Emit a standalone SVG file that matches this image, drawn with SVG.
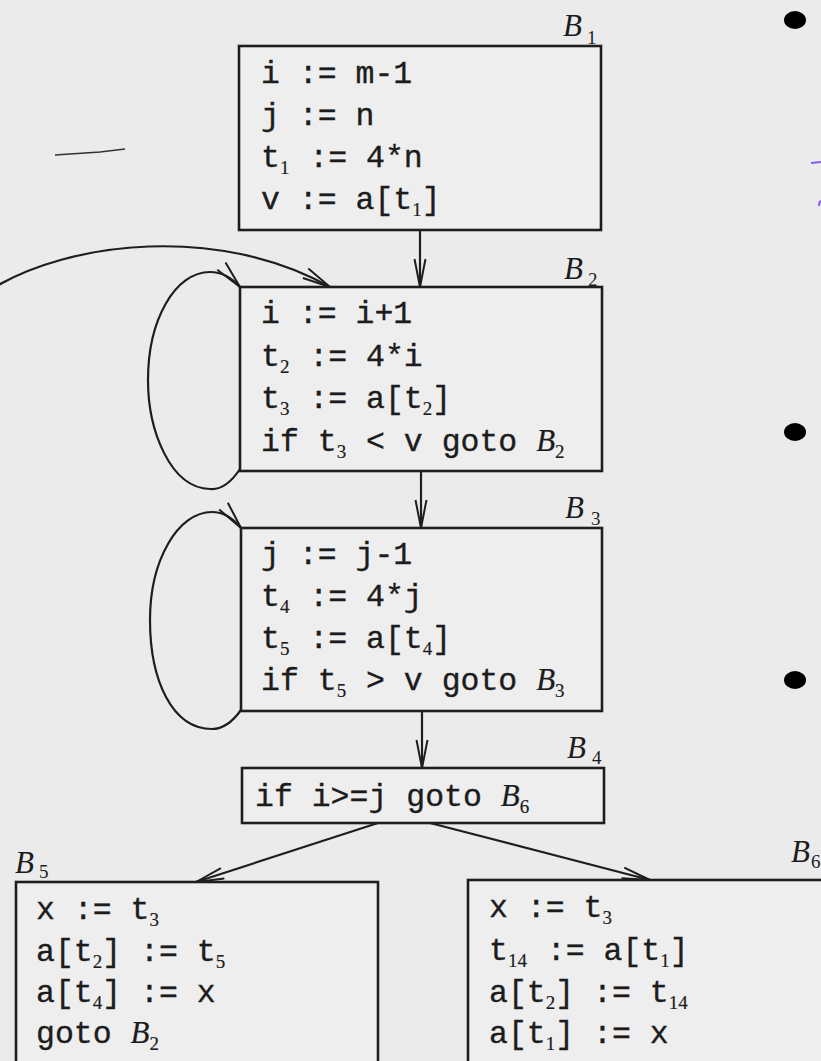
<svg xmlns="http://www.w3.org/2000/svg" width="821" height="1061" viewBox="0 0 821 1061">
<defs>
<style>
.bg{fill:#ebebeb}
.box{fill:#eeeeee;stroke:#1e1e1e;stroke-width:2.6}
.code{font-family:"Liberation Mono",monospace;font-size:31.5px;fill:#1c1c1c;stroke:#1c1c1c;stroke-width:0.35}
.sub{font-family:"Liberation Serif",serif;font-size:19px;stroke-width:0.2}
.it{font-family:"Liberation Serif",serif;font-style:italic;font-size:31px;stroke-width:0.2}
.lbl{font-family:"Liberation Serif",serif;font-style:italic;font-size:31px;fill:#1c1c1c}
.lsub{font-family:"Liberation Serif",serif;font-size:19px;fill:#1c1c1c}
.edge{fill:none;stroke:#1e1e1e;stroke-width:2.2}
.dot{fill:#000}
</style>
<marker id="arr" viewBox="0 0 30 14" refX="29" refY="7" markerWidth="30" markerHeight="14" markerUnits="userSpaceOnUse" orient="auto">
<path d="M1,1.5 L29,7 L1,12.5" fill="none" stroke="#1e1e1e" stroke-width="2"/>
</marker>
</defs>
<rect class="bg" x="0" y="0" width="821" height="1061"/>

<g id="connectors">
<path class="edge" marker-end="url(#arr)" d="M420,230 L420,287"/>
<path class="edge" marker-end="url(#arr)" d="M421,471 L421,528"/>
<path class="edge" marker-end="url(#arr)" d="M422,711 L422,768"/>
<path class="edge" marker-end="url(#arr)" d="M378,823 L196,882"/>
<path class="edge" marker-end="url(#arr)" d="M430,823 L650,880"/>
<path class="edge" marker-end="url(#arr)" d="M-10,290 C70,240 220,225 330,287"/>
<path class="edge" marker-end="url(#arr)" d="M240,469 C230,484 220,490 210,489 C170,488 148,430 148,380 C148,320 175,272 210,272 C222,272 232,278 240,287"/>
<path class="edge" marker-end="url(#arr)" d="M241,710 C231,724 221,729 212,729 C172,729 150,680 150,620 C150,560 178,512 212,512 C224,512 233,518 241,528"/>
</g>

<g id="B1">
<rect class="box" x="239" y="46" width="362" height="184"/>
<text class="lbl" x="563" y="36">B</text><text class="lsub" x="587" y="44">1</text>
<text class="code" x="261" y="83">i := m-1</text>
<text class="code" x="261" y="125">j := n</text>
<text class="code" x="261" y="167">t<tspan class="sub" dy="7">1</tspan><tspan dy="-7" dx="1"> := 4*n</tspan></text>
<text class="code" x="261" y="209">v := a[t<tspan class="sub" dy="7">1</tspan><tspan dy="-7">]</tspan></text>
</g>

<g id="B2">
<rect class="box" x="240" y="287" width="362" height="184"/>
<text class="lbl" x="564" y="279">B</text><text class="lsub" x="588" y="286">2</text>
<text class="code" x="261" y="323">i := i+1</text>
<text class="code" x="261" y="366">t<tspan class="sub" dy="7">2</tspan><tspan dy="-7" dx="1"> := 4*i</tspan></text>
<text class="code" x="261" y="408">t<tspan class="sub" dy="7">3</tspan><tspan dy="-7" dx="1"> := a[t</tspan><tspan class="sub" dy="7">2</tspan><tspan dy="-7">]</tspan></text>
<text class="code" x="261" y="451">if t<tspan class="sub" dy="7">3</tspan><tspan dy="-7" dx="1"> &lt; v goto </tspan><tspan class="it">B</tspan><tspan class="sub" dy="7">2</tspan></text>
</g>

<g id="B3">
<rect class="box" x="241" y="528" width="361" height="183"/>
<text class="lbl" x="565" y="518">B</text><text class="lsub" x="591" y="525">3</text>
<text class="code" x="261" y="564">j := j-1</text>
<text class="code" x="261" y="606">t<tspan class="sub" dy="7">4</tspan><tspan dy="-7" dx="1"> := 4*j</tspan></text>
<text class="code" x="261" y="648">t<tspan class="sub" dy="7">5</tspan><tspan dy="-7" dx="1"> := a[t</tspan><tspan class="sub" dy="7">4</tspan><tspan dy="-7">]</tspan></text>
<text class="code" x="261" y="690">if t<tspan class="sub" dy="7">5</tspan><tspan dy="-7" dx="1"> &gt; v goto </tspan><tspan class="it">B</tspan><tspan class="sub" dy="7">3</tspan></text>
</g>

<g id="B4">
<rect class="box" x="242" y="768" width="362" height="55"/>
<text class="lbl" x="567" y="758">B</text><text class="lsub" x="592" y="764">4</text>
<text class="code" x="255" y="806">if i&gt;=j goto <tspan class="it">B</tspan><tspan class="sub" dy="7">6</tspan></text>
</g>

<g id="B5">
<rect class="box" x="16" y="882" width="362" height="200"/>
<text class="lbl" x="15" y="873">B</text><text class="lsub" x="39" y="878">5</text>
<text class="code" x="36" y="919">x := t<tspan class="sub" dy="7">3</tspan></text>
<text class="code" x="36" y="961">a[t<tspan class="sub" dy="7">2</tspan><tspan dy="-7">] := t</tspan><tspan class="sub" dy="7">5</tspan></text>
<text class="code" x="36" y="1002">a[t<tspan class="sub" dy="7">4</tspan><tspan dy="-7">] := x</tspan></text>
<text class="code" x="36" y="1043">goto <tspan class="it">B</tspan><tspan class="sub" dy="7">2</tspan></text>
</g>

<g id="B6">
<rect class="box" x="468" y="880" width="380" height="200"/>
<text class="lbl" x="791" y="862">B</text><text class="lsub" x="811" y="868" font-size="16">6</text>
<text class="code" x="489" y="917">x := t<tspan class="sub" dy="7">3</tspan></text>
<text class="code" x="489" y="960">t<tspan class="sub" dy="7">14</tspan><tspan dy="-7" dx="1"> := a[t</tspan><tspan class="sub" dy="7">1</tspan><tspan dy="-7">]</tspan></text>
<text class="code" x="489" y="1002">a[t<tspan class="sub" dy="7">2</tspan><tspan dy="-7">] := t</tspan><tspan class="sub" dy="7">14</tspan></text>
<text class="code" x="489" y="1043">a[t<tspan class="sub" dy="7">1</tspan><tspan dy="-7">] := x</tspan></text>
</g>

<g id="marks">
<path d="M55,155 L100,152 L125,149" fill="none" stroke="#333" stroke-width="1.6"/>
<ellipse class="dot" cx="795" cy="20" rx="11" ry="9"/>
<ellipse class="dot" cx="795" cy="432" rx="11" ry="9"/>
<ellipse class="dot" cx="795" cy="680" rx="11" ry="9"/>
<path d="M811,163 L821,162" fill="none" stroke="#8a5cf0" stroke-width="2"/>
<path d="M819,206 Q819,202 821,201" fill="none" stroke="#8a5cf0" stroke-width="2"/>
</g>
</svg>
